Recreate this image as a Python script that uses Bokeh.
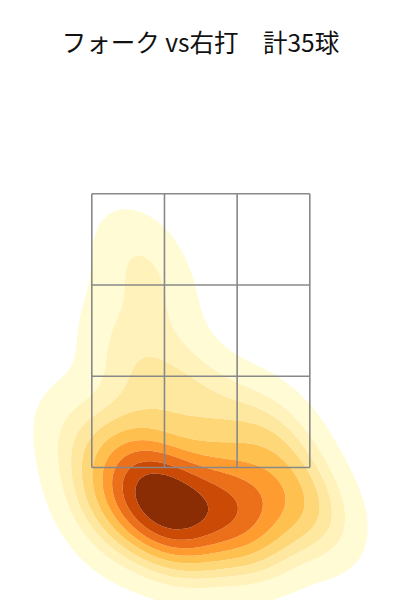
import numpy as np
from bokeh.plotting import figure
from bokeh.models import Label, Range1d
from bokeh.embed import file_html
from bokeh.resources import INLINE

# ---- data ----
title_text = "フォーク vs右打\u3000計35球"

# estimated pitch locations (ft): horizontal and height
plate_x = [-0.32, -0.26, -0.19, -0.16, -0.29, -0.10, -0.23, -0.39, -0.06,
           -0.45, 0.14, 0.23,
           -0.52, 0.00, 0.19, 0.32, -0.58, -0.19, 0.26, -0.39,
           0.58, 0.78, 0.52, 0.65, 0.45, 0.26,
           0.36, 0.03,
           -0.42, -0.31, -0.52, -0.14, -0.40,
           -0.81, -0.71]
plate_z = [1.42, 1.35, 1.38, 1.32, 1.48, 1.28, 1.25, 1.45, 1.38,
           1.38, 1.20, 1.28,
           1.65, 1.58, 1.45, 1.25, 1.19, 1.09, 1.58, 1.78,
           1.51, 1.25, 1.78, 1.38, 1.35, 1.15,
           1.91, 2.01,
           3.03, 2.73, 2.44, 2.19, 2.09,
           1.84, 1.45]

zone_x = [-0.708, -0.236, 0.236, 0.708]
zone_z = [1.6, 2.2, 2.8, 3.4]

band_colors = ["#fffbd5", "#fff3bb", "#fee8a0", "#fed878", "#fec14f",
               "#fe9c2f", "#ec701a", "#cb4a05", "#8b2d04"]
n_levels = 10
thresh = 0.05

# ---- gaussian KDE (Scott's rule) ----
data = np.vstack([plate_x, plate_z])
n = data.shape[1]
factor = n ** (-1.0 / 6.0)
cov = np.cov(data) * factor ** 2
inv = np.linalg.inv(cov)
norm = 1.0 / (2 * np.pi * np.sqrt(np.linalg.det(cov)) * n)
bw = np.sqrt(np.diag(cov))
gx = np.linspace(min(plate_x) - 3 * bw[0], max(plate_x) + 3 * bw[0], 200)
gz = np.linspace(min(plate_z) - 3 * bw[1], max(plate_z) + 3 * bw[1], 200)
X, Z = np.meshgrid(gx, gz)
pts = np.stack([X.ravel(), Z.ravel()])
diff = pts[:, :, None] - data[:, None, :]
m = np.einsum('igk,ij,jgk->gk', diff, inv, diff)
D = (np.exp(-0.5 * m).sum(axis=1) * norm).reshape(X.shape)

isoprop = np.linspace(thresh, 1, n_levels)
vals = np.sort(D.ravel())[::-1]
cum = np.cumsum(vals) / vals.sum()
idx = np.searchsorted(cum, 1 - isoprop)
levels = np.sort(np.take(vals, idx, mode="clip"))
levels[-1] = D.max() * 1.0001

# ---- figure ----
p = figure(width=400, height=600,
           x_range=Range1d(-1.301, 1.297), y_range=Range1d(0.726, 4.671),
           output_backend="svg", toolbar_location=None,
           x_axis_location=None, y_axis_location=None, min_border=0)
p.grid.visible = False
p.outline_line_color = None

p.contour(gx, gz, D, levels, fill_color=band_colors, line_color=None)

xs = [[zx, zx] for zx in zone_x] + [[zone_x[0], zone_x[-1]] for _ in zone_z]
ys = [[zone_z[0], zone_z[-1]] for _ in zone_x] + [[zz, zz] for zz in zone_z]
p.multi_line(xs, ys, line_color="#888888", line_width=1.6)

p.add_layout(Label(x=200, y=559, x_units="screen", y_units="screen",
                   text=title_text, text_align="center", text_baseline="middle",
                   text_font="Noto Sans CJK JP", text_font_size="24.5px",
                   text_color="#111111"))

open("out.html", "w").write(file_html(p, INLINE))
